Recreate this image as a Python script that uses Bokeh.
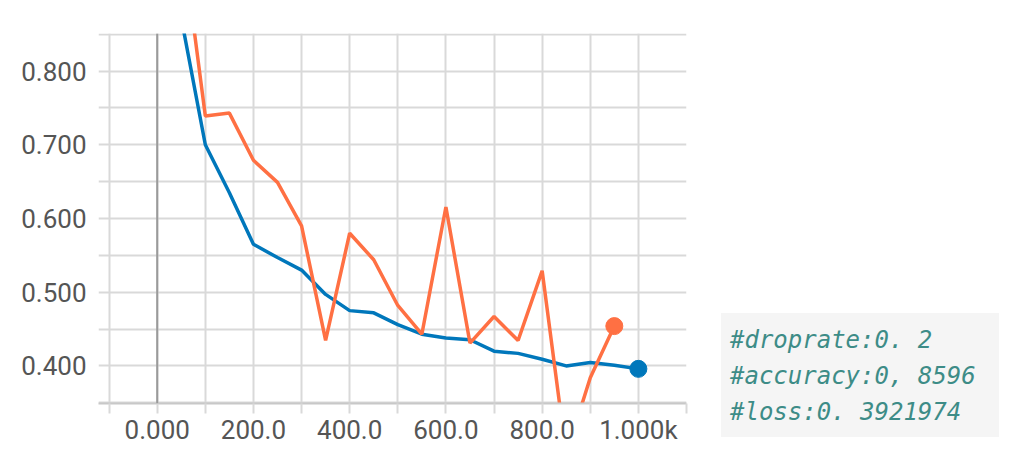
from bokeh.plotting import figure
from bokeh.layouts import row
from bokeh.models import Range1d, FixedTicker, Span, Div
from bokeh.embed import file_html
from bokeh.resources import INLINE

# ---- data ----
blue_steps = [50, 100, 150, 200, 250, 300, 350, 400, 450, 500, 550, 600, 650,
              700, 750, 800, 850, 900, 950, 1000]
blue_vals = [0.872, 0.700, 0.635, 0.565, 0.547, 0.530, 0.497, 0.475, 0.472,
             0.456, 0.443, 0.438, 0.4355, 0.420, 0.417, 0.409, 0.400, 0.4045,
             0.401, 0.396]

orange_steps = [50, 100, 150, 200, 250, 300, 350, 400, 450, 500, 550, 600, 650,
                700, 750, 800, 850, 900, 950]
orange_vals = [0.99, 0.739, 0.743, 0.679, 0.649, 0.590, 0.4345, 0.580, 0.544,
               0.482, 0.443, 0.6156, 0.431, 0.467, 0.4345, 0.529, 0.28, 0.384,
               0.454]

x_ticks = [-100, 0, 100, 200, 300, 400, 500, 600, 700, 800, 900, 1000, 1100]
x_tick_labels = {0: "0.000", 200: "200.0", 400: "400.0", 600: "600.0",
                 800: "800.0", 1000: "1.000k"}
y_ticks = [0.35, 0.40, 0.45, 0.50, 0.55, 0.60, 0.65, 0.70, 0.75, 0.80, 0.85]
y_tick_labels = {0.4: "0.400", 0.5: "0.500", 0.6: "0.600", 0.7: "0.700",
                 0.8: "0.800"}

note_lines = ["#droprate:0. 2", "#accuracy:0, 8596", "#loss:0. 3921974"]

BLUE = "#0077bb"
ORANGE = "#ff7043"
GRID = "#d9d9d9"
LABEL = "#555555"

# ---- main chart ----
p = figure(width=708, height=447, output_backend="svg", toolbar_location=None,
           x_range=Range1d(-122, 1100), y_range=Range1d(0.349, 0.851),
           min_border_left=98, min_border_right=22, min_border_top=33,
           min_border_bottom=0)
p.outline_line_color = None
p.background_fill_color = "white"

xt = FixedTicker(ticks=x_ticks)
yt = FixedTicker(ticks=y_ticks)
p.xaxis.ticker = xt
p.yaxis.ticker = yt
p.xgrid.ticker = xt
p.ygrid.ticker = yt
p.grid.grid_line_color = GRID
p.grid.grid_line_width = 2

p.xaxis.major_label_overrides = {t: x_tick_labels.get(t, "") for t in x_ticks}
p.yaxis.major_label_overrides = {t: y_tick_labels.get(round(t, 2), "") for t in y_ticks}

p.xaxis.axis_line_color = "#c8c8c8"
p.xaxis.axis_line_width = 2
p.xaxis.major_tick_line_color = GRID
p.xaxis.major_tick_line_width = 2
p.xaxis.major_tick_out = 10
p.xaxis.major_tick_in = 0
p.xaxis.minor_tick_line_color = None
p.xaxis.major_label_standoff = 1

p.yaxis.axis_line_color = None
p.yaxis.major_tick_line_color = None
p.yaxis.minor_tick_line_color = None
p.yaxis.major_label_standoff = 6

for ax in (p.xaxis, p.yaxis):
    ax.major_label_text_font = "Roboto"
    ax.major_label_text_font_size = "26px"
    ax.major_label_text_color = LABEL

p.add_layout(Span(location=0, dimension="height", line_color="#9a9a9a",
                  line_width=2))

p.line(blue_steps, blue_vals, line_color=BLUE, line_width=3.5)
p.line(orange_steps, orange_vals, line_color=ORANGE, line_width=3.5)
p.scatter([blue_steps[-1]], [blue_vals[-1]], size=17, color=BLUE)
p.scatter([orange_steps[-1]], [orange_vals[-1]], size=17, color=ORANGE)

# ---- note panel ----
note_html = (
    '<div style="margin:308px 0 0 8px; width:278px; height:124px; '
    'box-sizing:border-box; padding:9px 0 0 9px; background:#f5f5f5; '
    "font-family:'DejaVu Sans Mono', monospace; font-style:italic; "
    'font-size:24px; line-height:36px; color:#3d8c87; white-space:pre;">'
    + "<br>".join(note_lines) + "</div>"
)
note = Div(text=note_html, width=291, height=447)

layout = row(p, note)
open("out.html", "w").write(file_html(layout, INLINE))
